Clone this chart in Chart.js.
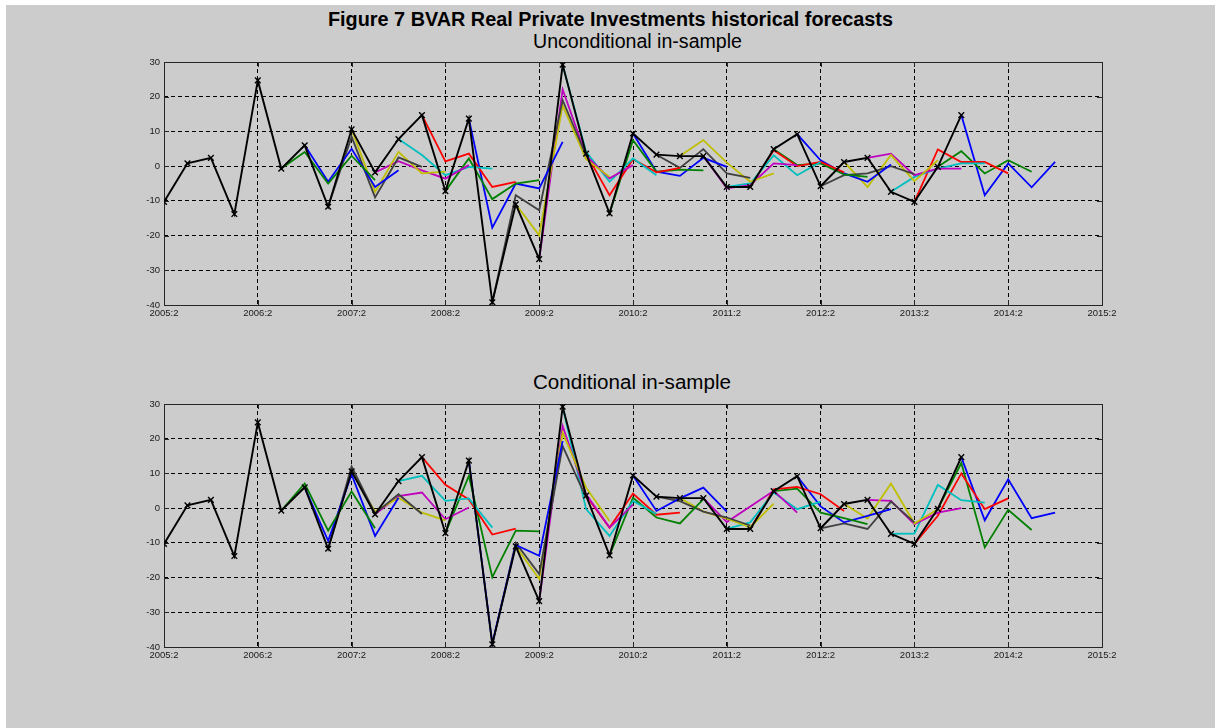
<!DOCTYPE html>
<html>
<head>
<meta charset="utf-8">
<script src="https://cdn.jsdelivr.net/npm/chart.js@4.4.1/dist/chart.umd.min.js"></script>
<style>
  html, body { margin: 0; padding: 0; background: #ffffff; }
  body { width: 1215px; height: 728px; position: relative; overflow: hidden; }
  #figure { position: absolute; left: 6px; top: 5px; width: 1209px; height: 723px; background: #cccccc; }
  .ttl { position: absolute; white-space: nowrap; color: #000; line-height: 20px; font-size: 20px; }
  .ttl span { display: inline-block; transform-origin: 0 0; }
  canvas { position: absolute; }
</style>
</head>
<body>
<div id="figure"></div>
<div class="ttl" id="t0" style="top:9px; font-weight:bold; font-family:'Liberation Sans Narrow','Liberation Sans',Arial,sans-serif;"><span>Figure 7 BVAR Real Private Investments historical forecasts</span></div>
<div class="ttl" id="t1" style="top:31px; font-family:'Liberation Sans Narrow','Liberation Sans',Arial,sans-serif;"><span>Unconditional in-sample</span></div>
<div class="ttl" id="t2" style="top:372px; font-family:'Liberation Sans',Arial,sans-serif;"><span>Conditional in-sample</span></div>
<canvas id="cUncond" width="1000" height="275" style="left:120px; top:52px;"></canvas>
<canvas id="cCond" width="1000" height="275" style="left:120px; top:394px;"></canvas>
<script>
// Quarter index 0 = 2005:2; one tick every four quarters
const tickLabels = ['2005:2', '2006:2', '2007:2', '2008:2', '2009:2', '2010:2',
                    '2011:2', '2012:2', '2013:2', '2014:2', '2015:2'];
const yTicks = [30, 20, 10, 0, -10, -20, -30, -40];

// Realised growth of real private investment, 2005:2 .. 2013:4
const actual = [-10.3, 0.8, 2.4, -13.8, 24.7, -0.7, 6.0, -11.7, 10.6, -1.8,
                7.8, 14.7, -7.2, 13.7, -39.2, -11.0, -26.8, 29.2, 3.6, -13.6,
                9.4, 3.3, 2.9, 2.9, -6.0, -6.0, 4.9, 9.2, -5.8, 1.2,
                2.4, -7.4, -10.3, -0.2, 14.7];

// First forecast origin (2006:3); each row holds the next four quarters
const firstOrigin = 5;

const uncondForecasts = [
  [4.1, -5.0, 3.0, -4.0],
  [-4.5, 5.0, -6.0, -1.2],
  [8.5, -9.0, 2.5, -0.2],
  [-7.4, 4.1, -2.1, -1.6],
  [1.4, -1.2, -3.6, 0.3],
  [3.2, -2.6, -0.2, -0.7],
  [1.4, 3.6, -6.0, -4.5],
  [2.2, -9.5, -5.0, -4.0],
  [-17.7, -5.0, -6.4, 7.0],
  [-8.4, -12.7, 19.0, 3.0],
  [-19.9, 17.5, 2.0, -3.1],
  [22.1, 3.0, -3.5, 0.3],
  [4.1, -4.5, 2.2, -2.6],
  [-8.4, 2.0, -1.8, -0.5],
  [7.5, -1.6, -1.0, -1.2],
  [-1.6, -2.8, 2.4, -0.2],
  [-0.5, 4.9, -2.1, -3.4],
  [7.5, 1.0, -4.5, -2.1],
  [-6.4, -5.5, 0.8, 0.3],
  [-5.0, 3.1, -2.6, 1.2],
  [4.6, 0.0, 1.2, -1.8],
  [0.3, 0.8, -2.4, -3.1],
  [1.7, -2.1, -4.5, 0.5],
  [-2.6, -2.1, 0.0, -2.3],
  [-6.0, 3.2, -4.3, 1.7],
  [3.6, -2.6, -0.7, -0.7],
  [-3.1, -0.7, 0.8, 0.8],
  [4.8, 1.2, 1.2, -2.1],
  [4.3, -2.1, 1.7, -1.6],
  [-8.4, 0.8, -6.1, 1.2]
];

const condForecasts = [
  [7.1, -6.5, 4.8, -5.8],
  [-9.4, 9.7, -8.0, 3.0],
  [12.0, -1.5, 4.0, -1.7],
  [-1.0, 3.0, -1.3, -3.5],
  [3.5, 4.5, -3.2, 0.2],
  [9.3, 2.1, 2.8, -5.6],
  [6.7, 2.5, -7.6, -5.9],
  [9.3, -19.9, -6.5, -6.7],
  [-39.0, -10.6, -13.7, 19.3],
  [-10.0, -19.0, 17.9, 3.0],
  [-20.4, 21.7, 5.9, -3.7],
  [23.6, 4.0, -5.6, 1.0],
  [-0.3, -8.0, 2.1, -1.7],
  [-5.6, 4.2, -1.9, -1.3],
  [3.0, -2.7, -4.4, 2.6],
  [-0.8, 2.8, 5.9, -1.0],
  [2.0, -1.0, -2.7, -5.0],
  [-1.0, -3.0, -5.5, 1.3],
  [-4.0, 0.5, 5.0, -1.3],
  [-4.1, 4.5, -0.3, 1.9],
  [5.4, 6.1, 4.0, -0.8],
  [5.6, -1.3, -2.9, -4.6],
  [0.5, -4.1, -2.2, -0.3],
  [-4.4, -6.0, 1.9, -4.1],
  [-3.0, 7.1, -4.4, -0.3],
  [2.1, -4.6, -1.3, 0.0],
  [-7.3, 6.7, 2.3, 1.6],
  [-2.2, 10.0, -0.3, 2.8],
  [13.0, -11.3, -0.5, -6.3],
  [-3.5, 8.3, -2.9, -1.3]
];

// Line colour cycle (blue, green, red, cyan, magenta, yellow, dark grey)
const palette = ['#0000ff', '#008000', '#ff0000', '#00bfbf', '#bf00bf', '#bfbf00', '#404040'];

function buildDatasets(forecasts) {
  const lastOrigin = firstOrigin + forecasts.length - 1;
  const sets = [{
    data: actual.map((v, i) => ({ x: i, y: v })),
    borderColor: '#000000',
    borderWidth: 1.9,
    pointStyle: 'crossRot',
    pointRadius: 4,
    pointBorderWidth: 1.4,
    pointBorderColor: '#000000',
    pointBackgroundColor: '#000000'
  }];
  forecasts.forEach((row, k) => {
    const origin = firstOrigin + k;
    const pts = [{ x: origin, y: actual[origin] }];
    row.forEach((v, h) => pts.push({ x: origin + h + 1, y: v }));
    sets.push({
      data: pts,
      borderColor: palette[(lastOrigin - origin) % palette.length],
      borderWidth: 1.8,
      pointRadius: 0
    });
  });
  return sets;
}

// Solid box with inward tick marks round the plotting area
const framePlugin = {
  id: 'frame',
  beforeDatasetsDraw(chart) {
    const { ctx, chartArea: a, scales } = chart;
    ctx.save();
    ctx.strokeStyle = '#262626';
    ctx.lineWidth = 1;
    ctx.setLineDash([]);
    ctx.strokeRect(Math.round(a.left) + 0.5, Math.round(a.top) + 0.5,
                   Math.round(a.right - a.left), Math.round(a.bottom - a.top));
    ctx.beginPath();
    scales.x.ticks.forEach(t => {
      const px = Math.round(scales.x.getPixelForValue(t.value)) + 0.5;
      ctx.moveTo(px, a.bottom); ctx.lineTo(px, a.bottom - 5);
      ctx.moveTo(px, a.top); ctx.lineTo(px, a.top + 5);
    });
    scales.y.ticks.forEach(t => {
      const py = Math.round(scales.y.getPixelForValue(t.value)) + 0.5;
      ctx.moveTo(a.left, py); ctx.lineTo(a.left + 5, py);
      ctx.moveTo(a.right, py); ctx.lineTo(a.right - 5, py);
    });
    ctx.stroke();
    ctx.restore();
  }
};

const tickFont = { family: "'Liberation Sans', Arial, sans-serif", size: 9.5 };

function makeChart(id, forecasts) {
  return new Chart(document.getElementById(id), {
    type: 'line',
    data: { datasets: buildDatasets(forecasts) },
    options: {
      responsive: false,
      animation: false,
      devicePixelRatio: 1,
      events: [],
      layout: { padding: { top: 10, right: 18, left: 0, bottom: 0 } },
      elements: { line: { tension: 0, fill: false } },
      plugins: { legend: { display: false }, tooltip: { enabled: false }, title: { display: false } },
      scales: {
        x: {
          type: 'linear',
          min: 0,
          max: (tickLabels.length - 1) * 4,
          afterBuildTicks: s => { s.ticks = tickLabels.map((_, i) => ({ value: i * 4 })); },
          afterFit: s => { s.height = 22; },
          ticks: {
            autoSkip: false,
            maxRotation: 0,
            padding: 3,
            color: '#1a1a1a',
            font: tickFont,
            callback: v => tickLabels[Math.round(v / 4)]
          },
          grid: { color: '#000000', lineWidth: 1, drawTicks: false },
          border: { display: false, dash: [4, 3] }
        },
        y: {
          type: 'linear',
          min: yTicks[yTicks.length - 1],
          max: yTicks[0],
          afterBuildTicks: s => { s.ticks = yTicks.map(v => ({ value: v })); },
          afterFit: s => { s.width = 44; },
          ticks: { padding: 4, color: '#1a1a1a', font: tickFont },
          grid: { color: '#000000', lineWidth: 1, drawTicks: false },
          border: { display: false, dash: [4, 3] }
        }
      }
    },
    plugins: [framePlugin]
  });
}

makeChart('cUncond', uncondForecasts);
makeChart('cCond', condForecasts);

// Centre the headings and fit them to their widths
function placeTitle(id, centreX, width) {
  const el = document.getElementById(id);
  const span = el.firstElementChild;
  const w = span.getBoundingClientRect().width;
  const k = width / w;
  span.style.transform = 'scaleX(' + k + ')';
  el.style.left = (centreX - width / 2) + 'px';
}
placeTitle('t0', 610, 565);
placeTitle('t1', 637, 209);
placeTitle('t2', 632, 198);
</script>
</body>
</html>
